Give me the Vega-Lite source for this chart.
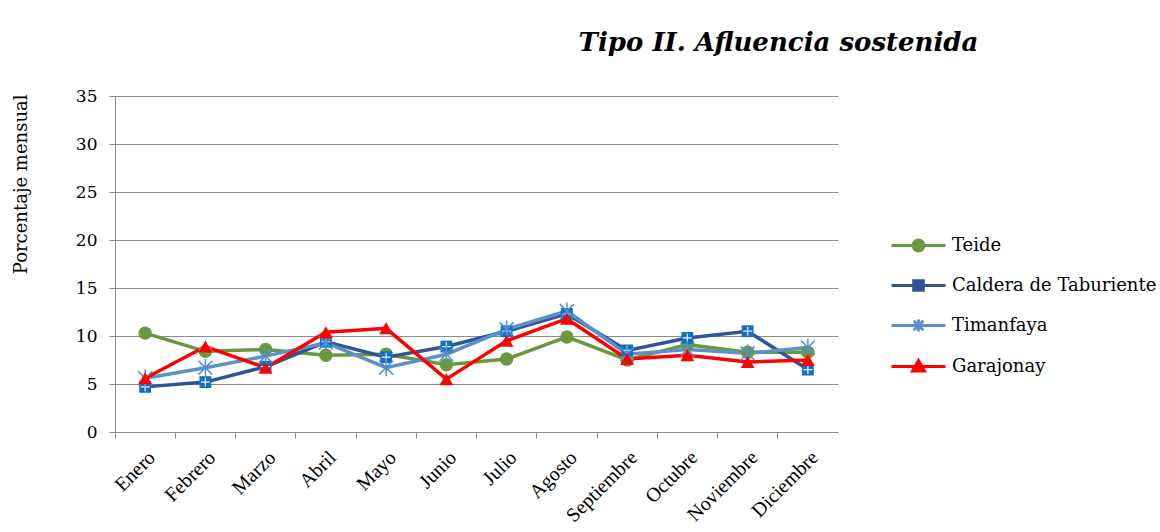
{
  "$schema": "https://vega.github.io/schema/vega-lite/v6.json",
  "width": 723,
  "height": 336,
  "autosize": {"type": "none"},
  "padding": {"left": 115, "top": 96, "right": 322, "bottom": 100},
  "background": "white",
  "title": {
    "text": "Tipo II. Afluencia sostenida",
    "font": "DejaVu Serif",
    "fontSize": 26,
    "fontStyle": "italic",
    "fontWeight": "bold",
    "color": "#000000",
    "anchor": "middle",
    "frame": "group",
    "dx": 302,
    "offset": 10,
    "baseline": "alphabetic"
  },
  "config": {
    "view": {"stroke": null},
    "axis": {"gridColor": "#8c8c8c", "domainColor": "#8c8c8c", "tickColor": "#8c8c8c", "labelColor": "#000000", "titleColor": "#000000"}
  },
  "data": {
    "values": [
      {"mes": "Enero", "parque": "Teide", "valor": 10.3},
      {"mes": "Febrero", "parque": "Teide", "valor": 8.4},
      {"mes": "Marzo", "parque": "Teide", "valor": 8.6},
      {"mes": "Abril", "parque": "Teide", "valor": 8.0},
      {"mes": "Mayo", "parque": "Teide", "valor": 8.1},
      {"mes": "Junio", "parque": "Teide", "valor": 7.0},
      {"mes": "Julio", "parque": "Teide", "valor": 7.6},
      {"mes": "Agosto", "parque": "Teide", "valor": 9.9},
      {"mes": "Septiembre", "parque": "Teide", "valor": 7.5},
      {"mes": "Octubre", "parque": "Teide", "valor": 9.1},
      {"mes": "Noviembre", "parque": "Teide", "valor": 8.3},
      {"mes": "Diciembre", "parque": "Teide", "valor": 8.3},
      {"mes": "Enero", "parque": "Caldera de Taburiente", "valor": 4.7},
      {"mes": "Febrero", "parque": "Caldera de Taburiente", "valor": 5.2},
      {"mes": "Marzo", "parque": "Caldera de Taburiente", "valor": 6.8},
      {"mes": "Abril", "parque": "Caldera de Taburiente", "valor": 9.4},
      {"mes": "Mayo", "parque": "Caldera de Taburiente", "valor": 7.8},
      {"mes": "Junio", "parque": "Caldera de Taburiente", "valor": 8.9},
      {"mes": "Julio", "parque": "Caldera de Taburiente", "valor": 10.5},
      {"mes": "Agosto", "parque": "Caldera de Taburiente", "valor": 12.3},
      {"mes": "Septiembre", "parque": "Caldera de Taburiente", "valor": 8.5},
      {"mes": "Octubre", "parque": "Caldera de Taburiente", "valor": 9.8},
      {"mes": "Noviembre", "parque": "Caldera de Taburiente", "valor": 10.5},
      {"mes": "Diciembre", "parque": "Caldera de Taburiente", "valor": 6.5},
      {"mes": "Enero", "parque": "Timanfaya", "valor": 5.6},
      {"mes": "Febrero", "parque": "Timanfaya", "valor": 6.7},
      {"mes": "Marzo", "parque": "Timanfaya", "valor": 7.9},
      {"mes": "Abril", "parque": "Timanfaya", "valor": 9.3},
      {"mes": "Mayo", "parque": "Timanfaya", "valor": 6.7},
      {"mes": "Junio", "parque": "Timanfaya", "valor": 8.1},
      {"mes": "Julio", "parque": "Timanfaya", "valor": 10.7},
      {"mes": "Agosto", "parque": "Timanfaya", "valor": 12.6},
      {"mes": "Septiembre", "parque": "Timanfaya", "valor": 8.1},
      {"mes": "Octubre", "parque": "Timanfaya", "valor": 8.6},
      {"mes": "Noviembre", "parque": "Timanfaya", "valor": 8.2},
      {"mes": "Diciembre", "parque": "Timanfaya", "valor": 8.8},
      {"mes": "Enero", "parque": "Garajonay", "valor": 5.6},
      {"mes": "Febrero", "parque": "Garajonay", "valor": 8.9},
      {"mes": "Marzo", "parque": "Garajonay", "valor": 6.7},
      {"mes": "Abril", "parque": "Garajonay", "valor": 10.4},
      {"mes": "Mayo", "parque": "Garajonay", "valor": 10.8},
      {"mes": "Junio", "parque": "Garajonay", "valor": 5.5},
      {"mes": "Julio", "parque": "Garajonay", "valor": 9.5},
      {"mes": "Agosto", "parque": "Garajonay", "valor": 11.8},
      {"mes": "Septiembre", "parque": "Garajonay", "valor": 7.6},
      {"mes": "Octubre", "parque": "Garajonay", "valor": 8.0},
      {"mes": "Noviembre", "parque": "Garajonay", "valor": 7.3},
      {"mes": "Diciembre", "parque": "Garajonay", "valor": 7.5}
    ]
  },
  "encoding": {
    "x": {
      "field": "mes",
      "type": "nominal",
      "scale": {
        "type": "band",
        "paddingInner": 0,
        "paddingOuter": 0,
        "domain": ["Enero", "Febrero", "Marzo", "Abril", "Mayo", "Junio", "Julio", "Agosto", "Septiembre", "Octubre", "Noviembre", "Diciembre"]
      },
      "axis": {
        "title": null,
        "bandPosition": 0,
        "labelAngle": -45,
        "labelFont": "Liberation Serif",
        "labelFontSize": 20,
        "labelPadding": 9,
        "tickSize": 6,
        "grid": false,
        "labelOffset": 0
      }
    },
    "y": {
      "field": "valor",
      "type": "quantitative",
      "scale": {"domain": [0, 35], "nice": false},
      "axis": {
        "title": "Porcentaje mensual",
        "titleFont": "DejaVu Serif",
        "titleFontSize": 18,
        "titleFontWeight": "normal",
        "titleAngle": -90,
        "titleAlign": "right",
        "titleBaseline": "alphabetic",
        "titleX": -89,
        "titleY": -2,
        "values": [0, 5, 10, 15, 20, 25, 30, 35],
        "labelFont": "DejaVu Serif",
        "labelFontSize": 17,
        "labelPadding": 12,
        "tickSize": 6,
        "grid": true
      }
    }
  },
  "layer": [
    {
      "mark": {"type": "line", "strokeWidth": 3.5},
      "encoding": {
        "color": {
          "field": "parque",
          "type": "nominal",
          "scale": {
            "domain": ["Teide", "Caldera de Taburiente", "Timanfaya", "Garajonay"],
            "range": ["#68993d", "#2f5597", "#5b90c9", "#ff0000"]
          },
          "legend": {
            "title": null,
            "orient": "none",
            "legendX": 782,
            "legendY": 128,
            "padding": 0,
            "symbolSize": 1600,
            "labelOffset": 12,
            "rowPadding": 7,
            "labelFont": "DejaVu Serif",
            "labelFontSize": 18,
            "labelColor": "#000000",
            "labelLimit": 400,
            "encode": {
              "symbols": {
                "update": {
                  "shape": {"signal": "datum.value === 'Teide' ? 'M-1.35,0H1.35M-0.27,0A0.27,0.27 0 1,0 0.27,0A0.27,0.27 0 1,0 -0.27,0Z' : datum.value === 'Caldera de Taburiente' ? 'M-1.35,0H1.35M-0.24,-0.24H0.24V0.24H-0.24Z' : datum.value === 'Timanfaya' ? 'M-1.35,0H1.35M0,-0.3V0.3M-0.24,-0.24L0.24,0.24M-0.24,0.24L0.24,-0.24' : 'M-1.35,0H1.35M0,-0.3L0.3,0.22H-0.3Z'"},
                  "fill": {"signal": "scale('color', datum.value)"},
                  "stroke": {"signal": "scale('color', datum.value)"},
                  "strokeWidth": {"value": 3},
                  "opacity": {"value": 1},
                  "fillOpacity": {"value": 1}
                }
              }
            }
          }
        }
      }
    },
    {
      "transform": [{"filter": "datum.parque === 'Teide'"}],
      "mark": {"type": "point", "shape": "circle", "filled": true, "size": 180, "color": "#68993d", "opacity": 1}
    },
    {
      "transform": [{"filter": "datum.parque === 'Caldera de Taburiente'"}],
      "mark": {"type": "point", "shape": "square", "filled": true, "size": 140, "color": "#1270c4", "opacity": 1}
    },
    {
      "transform": [{"filter": "datum.parque === 'Caldera de Taburiente'"}],
      "mark": {"type": "point", "shape": "M-0.75,0H0.75M0,-0.75V0.75", "filled": false, "size": 140, "color": "#ffffff", "strokeWidth": 1.2, "opacity": 0.9}
    },
    {
      "transform": [{"filter": "datum.parque === 'Timanfaya'"}],
      "mark": {"type": "point", "shape": "M0,-1V1M-0.8,-0.8L0.8,0.8M-0.8,0.8L0.8,-0.8", "filled": false, "size": 300, "color": "#4f8fd2", "strokeWidth": 1.5, "opacity": 1}
    },
    {
      "transform": [{"filter": "datum.parque === 'Garajonay'"}],
      "mark": {"type": "point", "shape": "triangle-up", "filled": true, "size": 190, "color": "#ff0000", "opacity": 1}
    }
  ]
}
